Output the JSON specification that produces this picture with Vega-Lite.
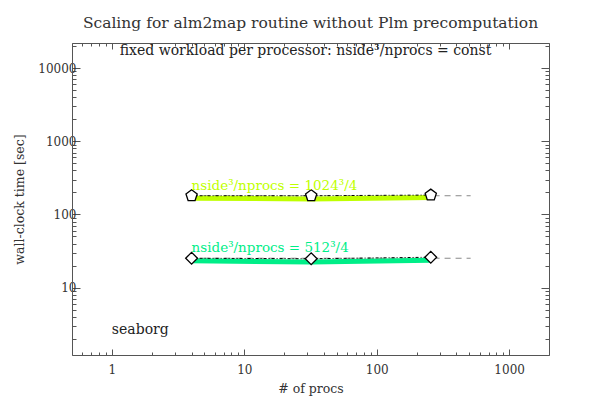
{
  "$schema": "https://vega.github.io/schema/vega-lite/v6.json",
  "width": 477,
  "height": 312,
  "autosize": {"type": "none"},
  "padding": {"left": 72, "top": 43, "right": 51, "bottom": 59},
  "background": "white",
  "config": {
    "view": {"stroke": null},
    "font": "DejaVu Serif",
    "axis": {
      "grid": false,
      "domainColor": "#555",
      "tickColor": "#555",
      "labelColor": "#333",
      "titleColor": "#333",
      "labelFont": "DejaVu Serif",
      "titleFont": "DejaVu Serif",
      "labelFontSize": 12,
      "titleFontSize": 12.5,
      "titleFontWeight": "normal",
      "labelOverlap": false,
      "labelFlush": false,
      "labelBound": false
    }
  },
  "title": {
    "text": "Scaling for alm2map routine without Plm precomputation",
    "font": "DejaVu Serif",
    "fontSize": 15.5,
    "fontWeight": "normal",
    "color": "#333",
    "anchor": "middle",
    "offset": 9
  },
  "datasets": {
    "points": [
      {"series": "1024", "procs": 4, "time": 180, "band": 167},
      {"series": "1024", "procs": 32, "time": 180, "band": 163},
      {"series": "1024", "procs": 256, "time": 184, "band": 170},
      {"series": "512", "procs": 4, "time": 25.2, "band": 23.2},
      {"series": "512", "procs": 32, "time": 24.8, "band": 22.3},
      {"series": "512", "procs": 256, "time": 26, "band": 23.6}
    ],
    "ideal": [
      {"series": "1024", "procs": 4, "time": 180},
      {"series": "1024", "procs": 512, "time": 180},
      {"series": "512", "procs": 4, "time": 25.2},
      {"series": "512", "procs": 512, "time": 25.2}
    ],
    "labels": [
      {"series": "1024", "procs": 4, "time": 180, "text": "nside³/nprocs = 1024³/4"},
      {"series": "512", "procs": 4, "time": 25.2, "text": "nside³/nprocs = 512³/4"}
    ],
    "subtitle": [
      {"procs": 29, "time": 17000, "text": "fixed workload per processor: nside³/nprocs = const"}
    ],
    "machine": [
      {"procs": 1, "time": 2.6, "text": "seaborg"}
    ]
  },
  "layer": [
    {
      "data": {"name": "ideal"},
      "mark": {"type": "line", "color": "#888", "strokeWidth": 1, "strokeDash": [6, 5]},
      "encoding": {
        "x": {
          "field": "procs", "type": "quantitative",
          "scale": {"type": "log", "domain": [0.5, 2000], "nice": false},
          "axis": {
            "orient": "bottom",
            "title": "# of procs",
            "titlePadding": 4,
            "values": [0.5,0.6,0.7,0.8,0.9,1,2,3,4,5,6,7,8,9,10,20,30,40,50,60,70,80,90,100,200,300,400,500,600,700,800,900,1000,2000],
            "labelExpr": "abs(log(datum.value)/LN10 - round(log(datum.value)/LN10)) < 0.001 ? format(datum.value, 'd') : ''",
            "tickSize": {"condition": {"test": "abs(log(datum.value)/LN10 - round(log(datum.value)/LN10)) < 0.001", "value": -6}, "value": -3},
            "labelPadding": 15
          }
        },
        "y": {
          "field": "time", "type": "quantitative",
          "scale": {"type": "log", "domain": [1.2, 22000], "nice": false},
          "axis": {
            "orient": "left",
            "title": "wall-clock time [sec]",
            "titlePadding": 11,
            "values": [2,3,4,5,6,7,8,9,10,20,30,40,50,60,70,80,90,100,200,300,400,500,600,700,800,900,1000,2000,3000,4000,5000,6000,7000,8000,9000,10000,20000],
            "labelExpr": "abs(log(datum.value)/LN10 - round(log(datum.value)/LN10)) < 0.001 ? format(datum.value, 'd') : ''",
            "tickSize": {"condition": {"test": "abs(log(datum.value)/LN10 - round(log(datum.value)/LN10)) < 0.001", "value": -8}, "value": -4},
            "labelPadding": 4
          }
        },
        "detail": {"field": "series"}
      }
    },
    {
      "data": {"name": "ideal"},
      "mark": {"type": "line", "opacity": 0},
      "encoding": {
        "x": {
          "field": "procs", "type": "quantitative",
          "scale": {"type": "log", "domain": [0.5, 2000], "nice": false},
          "axis": {
            "orient": "top",
            "title": null,
            "labels": false,
            "values": [0.5,0.6,0.7,0.8,0.9,1,2,3,4,5,6,7,8,9,10,20,30,40,50,60,70,80,90,100,200,300,400,500,600,700,800,900,1000,2000],
            "tickSize": {"condition": {"test": "abs(log(datum.value)/LN10 - round(log(datum.value)/LN10)) < 0.001", "value": -6}, "value": -3}
          }
        },
        "y": {
          "field": "time", "type": "quantitative",
          "scale": {"type": "log", "domain": [1.2, 22000], "nice": false},
          "axis": {
            "orient": "right",
            "title": null,
            "labels": false,
            "values": [2,3,4,5,6,7,8,9,10,20,30,40,50,60,70,80,90,100,200,300,400,500,600,700,800,900,1000,2000,3000,4000,5000,6000,7000,8000,9000,10000,20000],
            "tickSize": {"condition": {"test": "abs(log(datum.value)/LN10 - round(log(datum.value)/LN10)) < 0.001", "value": -8}, "value": -4}
          }
        },
        "detail": {"field": "series"}
      }
    },
    {
      "data": {"name": "points"},
      "mark": {"type": "line", "strokeWidth": 5},
      "encoding": {
        "x": {"field": "procs", "type": "quantitative", "axis": null},
        "y": {"field": "band", "type": "quantitative", "axis": null},
        "color": {"field": "series", "type": "nominal", "scale": {"domain": ["1024", "512"], "range": ["#bfff00", "#00ee88"]}, "legend": null}
      }
    },
    {
      "data": {"name": "points"},
      "mark": {"type": "line", "color": "#000", "strokeWidth": 1, "strokeDash": [3, 2, 1, 2]},
      "encoding": {
        "x": {"field": "procs", "type": "quantitative", "axis": null},
        "y": {"field": "time", "type": "quantitative", "axis": null},
        "detail": {"field": "series"}
      }
    },
    {
      "data": {"name": "points"},
      "mark": {"type": "point", "filled": true, "fill": "white", "stroke": "black", "strokeWidth": 1.3, "opacity": 1},
      "encoding": {
        "x": {"field": "procs", "type": "quantitative", "axis": null},
        "y": {"field": "time", "type": "quantitative", "axis": null},
        "shape": {"field": "series", "type": "nominal", "scale": {"domain": ["1024", "512"], "range": ["M0,-1L0.951,-0.309L0.588,0.809L-0.588,0.809L-0.951,-0.309Z", "diamond"]}, "legend": null},
        "size": {"value": 140}
      }
    },
    {
      "data": {"name": "labels"},
      "mark": {"type": "text", "align": "left", "baseline": "alphabetic", "dy": -6, "fontSize": 13.5, "font": "DejaVu Serif"},
      "encoding": {
        "x": {"field": "procs", "type": "quantitative", "axis": null},
        "y": {"field": "time", "type": "quantitative", "axis": null},
        "text": {"field": "text"},
        "color": {"field": "series", "type": "nominal", "scale": {"domain": ["1024", "512"], "range": ["#c8f030", "#30f0a0"]}, "legend": null}
      }
    },
    {
      "data": {"name": "subtitle"},
      "mark": {"type": "text", "align": "center", "baseline": "middle", "fontSize": 14, "font": "DejaVu Serif", "color": "#222"},
      "encoding": {
        "x": {"field": "procs", "type": "quantitative", "axis": null},
        "y": {"field": "time", "type": "quantitative", "axis": null},
        "text": {"field": "text"}
      }
    },
    {
      "data": {"name": "machine"},
      "mark": {"type": "text", "align": "left", "baseline": "middle", "fontSize": 14, "font": "DejaVu Serif", "color": "#222"},
      "encoding": {
        "x": {"field": "procs", "type": "quantitative", "axis": null},
        "y": {"field": "time", "type": "quantitative", "axis": null},
        "text": {"field": "text"}
      }
    }
  ],
  "resolve": {"axis": {"x": "independent", "y": "independent"}}
}
